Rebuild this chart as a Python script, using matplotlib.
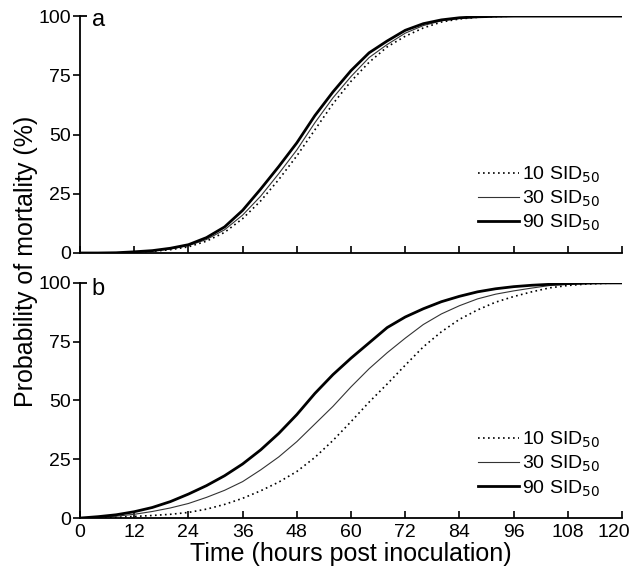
import numpy as np
import matplotlib.pyplot as plt
import matplotlib.transforms as mtransforms

plt.rcParams['font.family'] = ['Liberation Sans', 'DejaVu Sans']

# === Données ===
hours = list(range(0, 121, 4))

# panneau a
a_10 = [0, 0, 0, 0.3, 0.7, 1.4, 2.6, 5.0, 8.7, 14.5, 22, 31, 41, 52, 63, 72.5,
        80.5, 87, 91.5, 95, 97.5, 98.8, 99.5, 99.8, 100, 100, 100, 100, 100, 100, 100]
a_30 = [0, 0, 0.1, 0.4, 0.9, 1.7, 3.1, 5.7, 9.8, 16, 24, 33.5, 43.5, 55, 65.5, 74.5,
        82.5, 88, 92.8, 96, 98, 99, 99.6, 99.9, 100, 100, 100, 100, 100, 100, 100]
a_90 = [0, 0, 0.1, 0.5, 1.0, 2.0, 3.5, 6.5, 11, 18, 27, 36.5, 46.5, 58, 68, 77,
        84.5, 89.5, 94, 96.8, 98.4, 99.3, 99.7, 99.9, 100, 100, 100, 100, 100, 100, 100]

# panneau b
b_10 = [0, 0.1, 0.3, 0.7, 1.1, 1.6, 2.4, 3.8, 5.8, 8.4, 11.6, 15.3, 19.8, 25.8, 33, 41,
        49.3, 57, 65, 72.8, 79.2, 84.5, 88.5, 91.8, 94.2, 96.2, 97.9, 98.9, 99.5, 99.8, 100]
b_30 = [0, 0.3, 0.8, 1.6, 2.8, 4.3, 6.2, 8.8, 11.8, 15.5, 20.5, 26, 32.5, 40, 47.5, 55.8,
        63.5, 70.3, 76.5, 82.3, 86.8, 90.3, 93.2, 95.2, 96.6, 97.8, 98.9, 99.4, 99.7, 99.9, 100]
b_90 = [0, 0.6, 1.4, 2.7, 4.5, 7.0, 10.2, 13.8, 18, 23, 29, 36, 44, 53, 61, 68,
        74.5, 81, 85.5, 89, 92, 94.3, 96.2, 97.5, 98.4, 99, 99.4, 99.7, 99.9, 100, 100]

doses = ['10 SID$_{50}$', '30 SID$_{50}$', '90 SID$_{50}$']
x_ticks = list(range(0, 121, 12))
y_ticks = [0, 25, 50, 75, 100]

styles = [dict(color='black', lw=1.2, ls=(0, (1, 2.0))),
          dict(color='#333333', lw=0.8, ls='-'),
          dict(color='black', lw=2.0, ls='-')]

fig = plt.figure(figsize=(6.38, 5.75), dpi=100)
ax_a = fig.add_axes([0.1254, 0.560, 0.8496, 0.412])
ax_b = fig.add_axes([0.1254, 0.099, 0.8496, 0.409])

for ax, series, letter, ly in [(ax_a, [a_10, a_30, a_90], 'a', 0.982),
                               (ax_b, [b_10, b_30, b_90], 'b', 0.975)]:
    for y, lab, st in zip(series, doses, styles):
        ax.plot(hours, y, label=lab, **st)
    ax.set_xlim(0, 120)
    ax.set_ylim(0, 100)
    ax.set_xticks(x_ticks)
    ax.set_yticks(y_ticks)
    ax.spines['top'].set_visible(False)
    ax.spines['right'].set_visible(False)
    for s in ['left', 'bottom']:
        ax.spines[s].set_linewidth(1.3)
    ax.tick_params(axis='x', direction='in', length=5, width=1.2, labelsize=14, pad=4)
    ax.tick_params(axis='y', direction='out', length=5, width=1.2, labelsize=14, pad=1.5)
    # petit trait en haut de l'axe y
    ax.plot([0, 0.012], [1, 1], color='black', lw=1.3, transform=ax.transAxes,
            clip_on=False, solid_capstyle='butt')
    ax.text(0.022, ly, letter, transform=ax.transAxes, fontsize=17,
            va='center', ha='left')
    ax.legend(loc='lower right', bbox_to_anchor=(0.975, 0.05), frameon=False,
              fontsize=14, handlelength=2.1, handletextpad=0.2,
              labelspacing=0.2, borderaxespad=0.0)

ax_a.tick_params(axis='x', labelbottom=False)
ax_b.set_xlabel('Time (hours post inoculation)', fontsize=18, labelpad=1)

# le dernier label (120) est décalé vers la gauche dans l'original
last = ax_b.get_xticklabels()[-1]
last.set_transform(last.get_transform() +
                   mtransforms.ScaledTranslation(-8 / 100, 0, fig.dpi_scale_trans))

fig.text(0.041, 0.546, 'Probability of mortality (%)', rotation=90,
         fontsize=18, va='center', ha='center')

plt.savefig('out.png', dpi=100)
